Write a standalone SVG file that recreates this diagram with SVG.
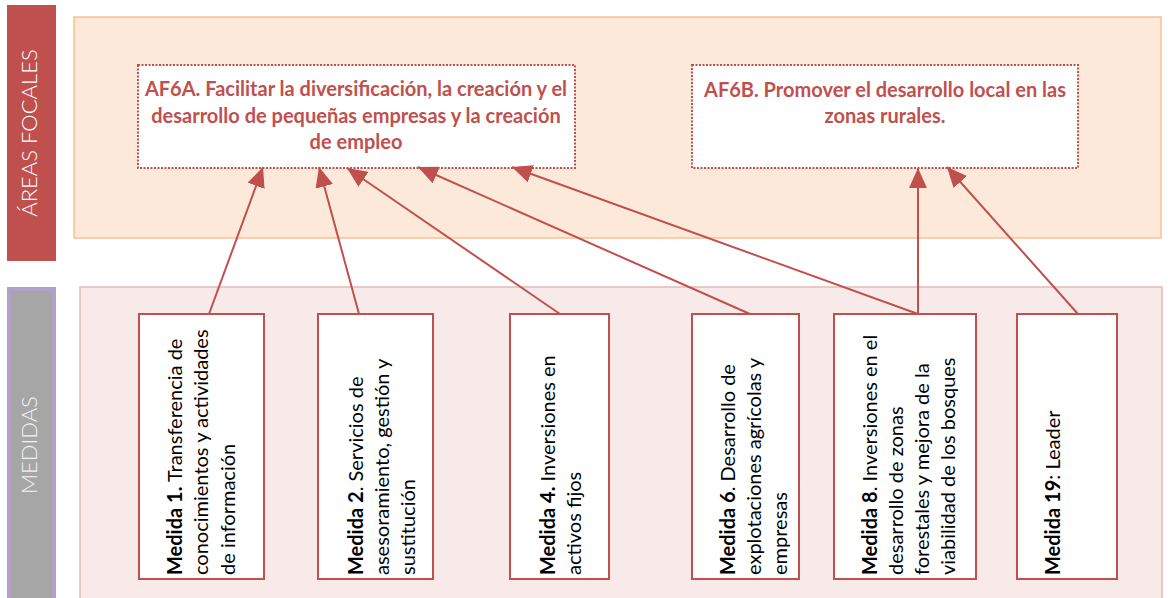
<svg xmlns="http://www.w3.org/2000/svg" width="1168" height="598" viewBox="0 0 1168 598">
<style>
.side{font-family:Lato,"Liberation Sans",sans-serif;font-size:22px;font-weight:300;text-anchor:middle;}
.af{font-family:Lato,"Liberation Sans",sans-serif;font-size:20px;font-weight:bold;fill:#C0504D;text-anchor:middle;}
.med{font-family:Lato,"Liberation Sans",sans-serif;font-size:20px;fill:#000;}
.b{font-weight:bold;}
.box{fill:#fff;stroke:#C0504D;stroke-width:2;}
.afbox{fill:#fff;stroke:#C0504D;stroke-width:2;stroke-dasharray:2 1.5;}
.conn{stroke:#C0504D;stroke-width:2;fill:none;marker-end:url(#ah);}
</style>
<defs>
<marker id="ah" viewBox="0 0 20 18" refX="20" refY="9" markerWidth="20" markerHeight="18" markerUnits="userSpaceOnUse" orient="auto">
<path d="M0,0 L20,9 L0,18 z" fill="#C0504D"/>
</marker>
</defs>
<rect width="1168" height="598" fill="#fff"/>
<g id="band-areas">
<rect x="7" y="5" width="49" height="256" fill="#C0504D"/>
<text class="side" fill="#fff" transform="translate(37,133) rotate(-90)">ÁREAS FOCALES</text>
</g>
<g id="band-medidas">
<rect x="9" y="289" width="45" height="312" fill="#A6A6A6" stroke="#B1A0C7" stroke-width="4"/>
<text class="side" fill="#F2F2F2" transform="translate(37,445) rotate(-90)">MEDIDAS</text>
</g>
<g id="panel-areas">
<rect x="74" y="17" width="1087" height="221" fill="#FDE9D9" stroke="#FAC090" stroke-width="1.5"/>
</g>
<g id="panel-medidas">
<rect x="80" y="287" width="1082" height="316" fill="#F9EAEA" stroke="#E6B9B8" stroke-width="1.5"/>
</g>
<g id="af6a">
<rect class="afbox" x="138" y="65" width="437" height="103"/>
<text class="af" x="356" y="96">AF6A. Facilitar la diversificación, la creación y el</text>
<text class="af" x="356" y="123">desarrollo de pequeñas empresas y la creación</text>
<text class="af" x="356" y="149">de empleo</text>
</g>
<g id="af6b">
<rect class="afbox" x="692" y="65" width="386" height="103"/>
<text class="af" x="885" y="97">AF6B. Promover el desarrollo local en las</text>
<text class="af" x="885" y="123">zonas rurales.</text>
</g>
<g id="m1">
<rect class="box" x="139" y="314" width="125" height="265"/>
<text class="med" transform="translate(182,575) rotate(-90)"><tspan class="b">Medida 1.</tspan> Transferencia de</text>
<text class="med" transform="translate(208,575) rotate(-90)">conocimientos y actividades</text>
<text class="med" transform="translate(235,575) rotate(-90)">de información</text>
</g>
<g id="m2">
<rect class="box" x="318" y="314" width="115" height="265"/>
<text class="med" transform="translate(363,575) rotate(-90)"><tspan class="b">Medida 2</tspan>. Servicios de</text>
<text class="med" transform="translate(389,575) rotate(-90)">asesoramiento, gestión y</text>
<text class="med" transform="translate(415,575) rotate(-90)">sustitución</text>
</g>
<g id="m4">
<rect class="box" x="510" y="314" width="99" height="265"/>
<text class="med" transform="translate(555,575) rotate(-90)"><tspan class="b">Medida 4.</tspan> Inversiones en</text>
<text class="med" transform="translate(581,575) rotate(-90)">activos fijos</text>
</g>
<g id="m6">
<rect class="box" x="692" y="314" width="107" height="265"/>
<text class="med" transform="translate(735,575) rotate(-90)"><tspan class="b">Medida 6</tspan>. Desarrollo de</text>
<text class="med" transform="translate(761,575) rotate(-90)">explotaciones agrícolas y</text>
<text class="med" transform="translate(787,575) rotate(-90)">empresas</text>
</g>
<g id="m8">
<rect class="box" x="834" y="314" width="142" height="265"/>
<text class="med" transform="translate(877,575) rotate(-90)"><tspan class="b">Medida 8</tspan>. Inversiones en el</text>
<text class="med" transform="translate(903,575) rotate(-90)">desarrollo de zonas</text>
<text class="med" transform="translate(929,575) rotate(-90)">forestales y mejora de la</text>
<text class="med" transform="translate(955,575) rotate(-90)">viabilidad de los bosques</text>
</g>
<g id="m19">
<rect class="box" x="1017" y="314" width="100" height="265"/>
<text class="med" transform="translate(1060,575) rotate(-90)"><tspan class="b">Medida 19</tspan>: Leader</text>
</g>
<g id="connectors">
<line class="conn" x1="209" y1="314" x2="263" y2="167"/>
<line class="conn" x1="359" y1="314" x2="319" y2="167"/>
<line class="conn" x1="560" y1="314" x2="347" y2="168"/>
<line class="conn" x1="750" y1="314" x2="418" y2="167"/>
<line class="conn" x1="918" y1="314" x2="512" y2="167"/>
<line class="conn" x1="918" y1="314" x2="918" y2="168"/>
<line class="conn" x1="1078" y1="314" x2="947" y2="167"/>
</g>
</svg>
